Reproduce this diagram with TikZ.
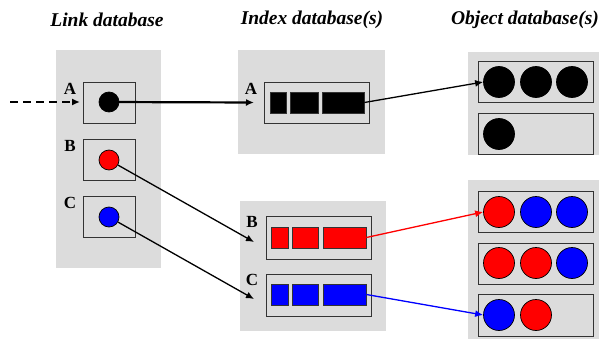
\documentclass[tikz,border=0pt]{standalone}
\usepackage{fontspec}
\setmainfont{Liberation Serif}
\usetikzlibrary{arrows.meta}
\definecolor{panelgray}{HTML}{DCDCDC}
\definecolor{edgegray}{HTML}{333333}
\definecolor{myred}{HTML}{FF0000}
\definecolor{myblue}{HTML}{0000FF}
\begin{document}
\begin{tikzpicture}[x=1pt,y=-1pt,
  panel/.style={fill=panelgray,draw=none},
  slot/.style={draw=edgegray,line width=1pt,fill=panelgray,inner sep=0pt},
  dot/.style={circle,draw=black,line width=0.7pt,inner sep=0pt,minimum size=#1},
  bar/.style={draw=edgegray,line width=0.7pt,inner sep=0pt},
  title/.style={font=\fontsize{19.5}{23}\selectfont\bfseries\itshape,inner sep=0pt},
  lbl/.style={font=\fontsize{17}{19}\selectfont\bfseries,inner sep=0pt},
  arr/.style={-{Latex[length=8pt,width=7pt]},line width=1.3pt}]
\useasboundingbox (0,0) rectangle (603,340);
% titles
\node[title] (t1) at (107,20) {Link database};
\node[title] (t2) at (312,20) {Index database(s)};
\node[title] (t3) at (525,20) {Object database(s)};
% panels
\fill[panel] (56,50) rectangle (161,268);
\fill[panel] (238,50) rectangle (385,154);
\fill[panel] (240,201) rectangle (386,331);
\fill[panel] (468,52) rectangle (599,155);
\fill[panel] (468,180) rectangle (599,339);
% link boxes
\node[slot,minimum width=52pt,minimum height=41pt] (lA) at (109,102.5) {};
\node[slot,minimum width=52pt,minimum height=41pt] (lB) at (109,159.5) {};
\node[slot,minimum width=52pt,minimum height=41pt] (lC) at (109,216.5) {};
\node[dot=20pt,fill=black] (la) at (109,102) {};
\node[dot=20pt,fill=myred] (lb) at (109,160) {};
\node[dot=20pt,fill=myblue] (lc) at (109,217) {};
\node[lbl] (LA) at (70,89) {A};
\node[lbl] (LB) at (70,146) {B};
\node[lbl] (LC) at (70,203) {C};
% index boxes
\node[slot,minimum width=105pt,minimum height=41pt] (iA) at (316.5,102.5) {};
\node[slot,minimum width=105pt,minimum height=43pt] (iB) at (318.5,237.5) {};
\node[slot,minimum width=105pt,minimum height=42pt] (iC) at (318.5,295) {};
\node[lbl] (IA) at (251,89) {A};
\node[lbl] (IB) at (252,222) {B};
\node[lbl] (IC) at (252,280) {C};
\node[bar,fill=black,minimum width=16pt,minimum height=21pt] (a1) at (278,102.5) {};
\node[bar,fill=black,minimum width=28pt,minimum height=21pt] (a2) at (304,102.5) {};
\node[bar,fill=black,minimum width=42pt,minimum height=21pt] (a3) at (343,102.5) {};
\node[bar,fill=myred,minimum width=17pt,minimum height=21pt] (b1) at (279.5,237.5) {};
\node[bar,fill=myred,minimum width=26pt,minimum height=21pt] (b2) at (305,237.5) {};
\node[bar,fill=myred,minimum width=43pt,minimum height=21pt] (b3) at (344.5,237.5) {};
\node[bar,fill=myblue,minimum width=17pt,minimum height=21pt] (c1) at (279.5,294.5) {};
\node[bar,fill=myblue,minimum width=26pt,minimum height=21pt] (c2) at (305,294.5) {};
\node[bar,fill=myblue,minimum width=43pt,minimum height=21pt] (c3) at (344.5,294.5) {};
% object boxes
\node[slot,minimum width=115pt,minimum height=41pt] (o1) at (535.5,81.5) {};
\node[slot,minimum width=115pt,minimum height=41pt] (o2) at (535.5,133.5) {};
\node[slot,minimum width=115pt,minimum height=41pt] (o3) at (535.5,211.5) {};
\node[slot,minimum width=115pt,minimum height=41pt] (o4) at (535.5,263.5) {};
\node[slot,minimum width=115pt,minimum height=42pt] (o5) at (535.5,315) {};
\node[dot=31pt,fill=black] (o1a) at (499,82) {};
\node[dot=31pt,fill=black] (o1b) at (536,82) {};
\node[dot=31pt,fill=black] (o1c) at (572,82) {};
\node[dot=31pt,fill=black] (o2a) at (499,134) {};
\node[dot=31pt,fill=myred] (o3a) at (499,212) {};
\node[dot=31pt,fill=myblue] (o3b) at (536,212) {};
\node[dot=31pt,fill=myblue] (o3c) at (572,212) {};
\node[dot=31pt,fill=myred] (o4a) at (499,263) {};
\node[dot=31pt,fill=myred] (o4b) at (536,263) {};
\node[dot=31pt,fill=myblue] (o4c) at (572,263) {};
\node[dot=31pt,fill=myblue] (o5a) at (499,315) {};
\node[dot=31pt,fill=myred] (o5b) at (536,315) {};
% connectors
\coordinate (src) at (10,102);
\coordinate (inA) at (254,102.5);
\coordinate (inB) at (254,242);
\coordinate (inC) at (254,299);
\coordinate (lAin) at (80,102);
\draw[arr,dash pattern=on 8pt off 5pt,line width=2pt] (src) -- (lAin);
\draw[arr,line width=2.2pt] (la.center) -- (inA);
\draw[arr] (lb) -- (inB);
\draw[arr] (lc) -- (inC);
\draw[arr] (a3.east) -- (o1a.west);
\draw[arr,draw=myred,fill=myred] (b3.east) -- (o3a.west);
\draw[arr,draw=myblue,fill=myblue] (c3.east) -- (o5a.west);
\end{tikzpicture}
\end{document}
